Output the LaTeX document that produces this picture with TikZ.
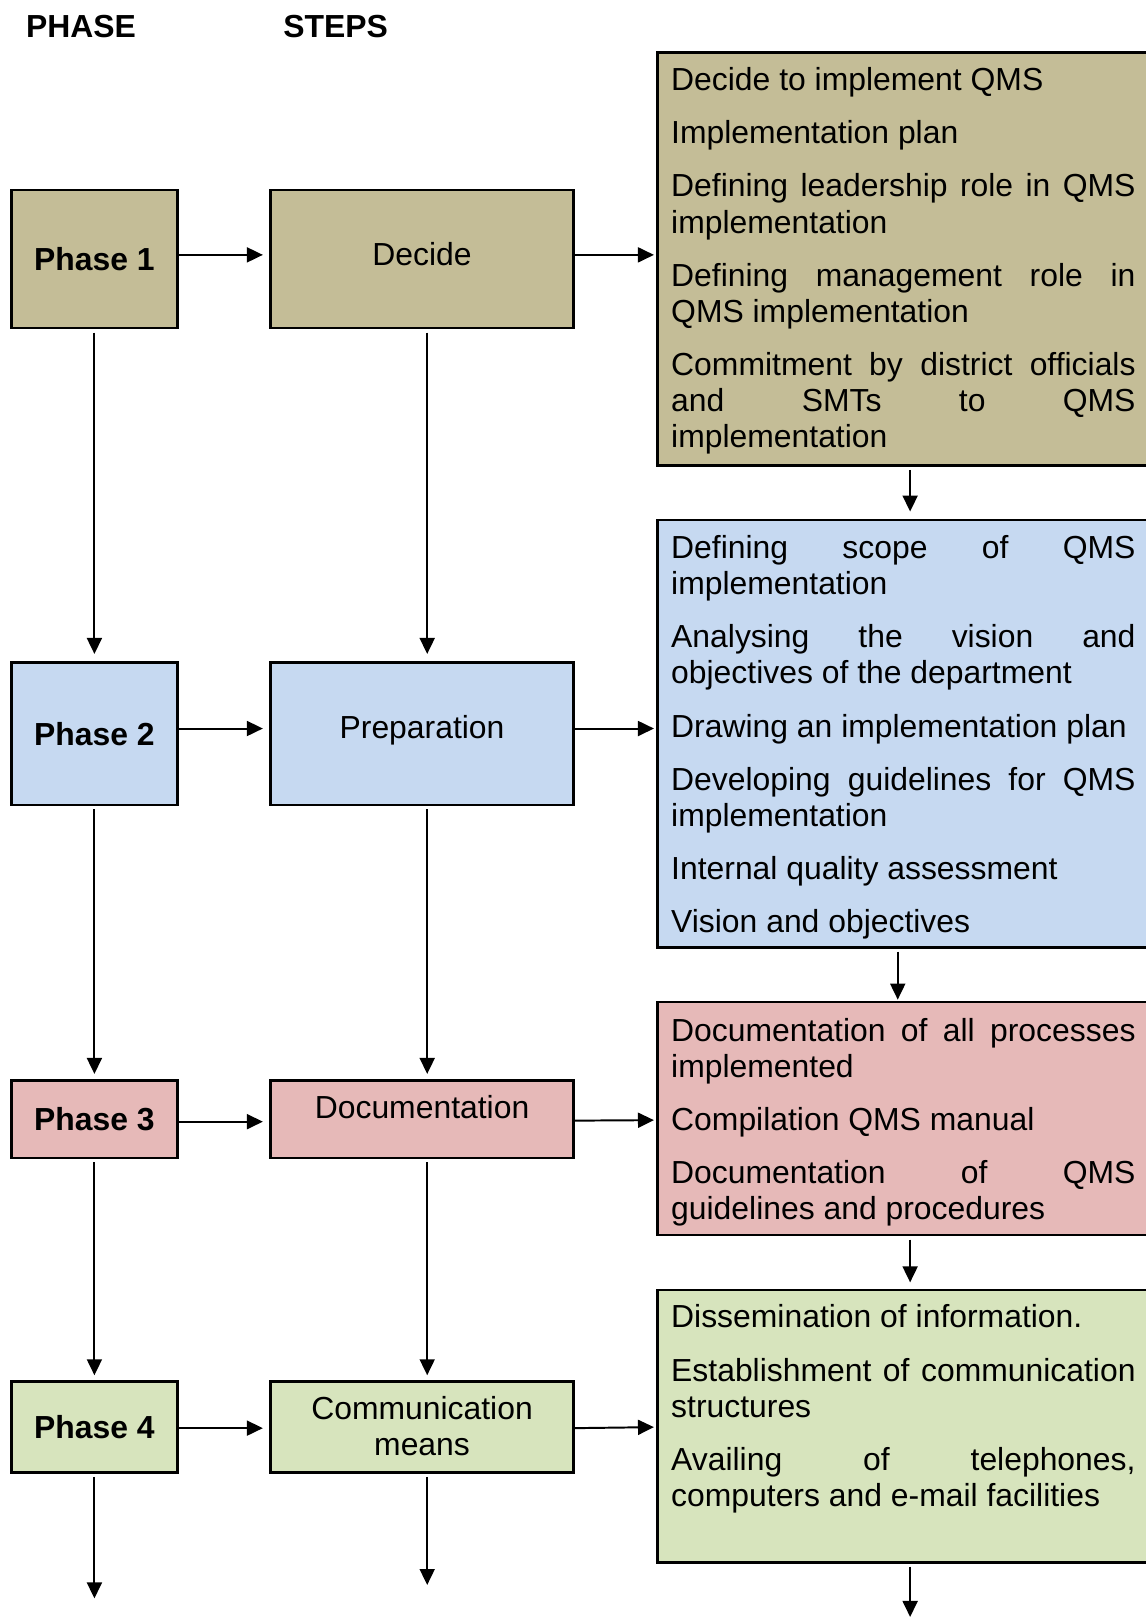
\documentclass[tikz,border=0pt]{standalone}
\usepackage{fontspec}
\setmainfont{Liberation Sans}
\usetikzlibrary{arrows.meta}
\definecolor{tanc}{HTML}{C4BD97}
\definecolor{bluec}{HTML}{C6D9F1}
\definecolor{pinkc}{HTML}{E6B9B8}
\definecolor{greenc}{HTML}{D7E4BD}
\newcommand\fsz{\fontsize{30.9pt}{35pt}\selectfont}
\newcommand\pskip{\par\vspace{16.5pt}}
\newcommand\setpar{\fsz\parindent=0pt\parskip=0pt\leftskip=0pt\rightskip=0pt\parfillskip=0pt plus 1fil\hyphenpenalty=10000\exhyphenpenalty=10000\hbadness=10000\tolerance=10000\relax}
\newenvironment{jtext}{\begin{minipage}[t]{450pt}\setpar}{\end{minipage}}
\begin{document}
\begin{tikzpicture}[x=1pt,y=-1pt,
  box/.style={draw=black,line width=2.5pt,inner sep=0pt},
  pbox/.style={box,minimum width=161pt,font=\fsz\bfseries},
  sbox/.style={box,minimum width=294pt},
  rbox/.style={box,minimum width=478pt},
  lbl/.style={font=\fsz,inner sep=0pt,align=center},
  txt/.style={inner sep=0pt,anchor=north west},
  hdr/.style={font=\fsz\bfseries,inner sep=0pt,anchor=base west},
  arr/.style={line width=1.9pt,-{Triangle[length=15.5pt,width=14.5pt]}},
]
\path[use as bounding box] (0,0) rectangle (1110,1568);

% headers
\node[hdr] (hphase) at (25,36) {PHASE};
\node[hdr] (hsteps) at (274.5,36) {STEPS};

% phase boxes
\node[pbox,fill=tanc,minimum height=134pt] (p1) at (91.5,251) {Phase 1};
\node[pbox,fill=bluec,minimum height=138pt] (p2) at (91.5,711) {Phase 2};
\node[pbox,fill=pinkc,minimum height=75pt] (p3) at (91.5,1084.5) {Phase 3};
\node[pbox,fill=greenc,minimum height=88pt] (p4) at (91.5,1383) {Phase 4};

% step boxes
\node[sbox,fill=tanc,minimum height=134pt] (s1) at (409,251) {};
\node[sbox,fill=bluec,minimum height=138pt] (s2) at (409,711) {};
\node[sbox,fill=pinkc,minimum height=75pt] (s3) at (409,1084.5) {};
\node[sbox,fill=greenc,minimum height=88pt] (s4) at (409,1383) {};
\node[lbl] (s1t) at ([yshift=5pt]s1.center) {Decide};
\node[lbl] (s2t) at ([yshift=3.8pt]s2.center) {Preparation};
\node[lbl] (s3t) at ([yshift=11.5pt]s3.center) {Documentation};
\node[lbl] (s4t) at ([yshift=1pt]s4.center) {Communication\\means};

% right boxes
\node[rbox,fill=tanc,minimum height=400pt] (r1) at (876,251) {};
\node[rbox,fill=bluec,minimum height=414pt] (r2) at (876,711) {};
\node[rbox,fill=pinkc,minimum height=226pt] (r3) at (876,1084) {};
\node[rbox,fill=greenc,minimum height=264pt] (r4) at (876,1382) {};

\node[txt] (r1t) at ([xshift=14.5pt,yshift=-15.5pt]r1.north west) {\begin{jtext}
Decide to implement QMS\pskip
Implementation plan\pskip
Defining leadership role in QMS\linebreak implementation\pskip
Defining management role in\linebreak QMS implementation\pskip
Commitment by district officials\linebreak and SMTs to QMS\linebreak implementation\end{jtext}};

\node[txt] (r2t) at ([xshift=14.5pt,yshift=-16pt]r2.north west) {\begin{jtext}
Defining scope of QMS\linebreak implementation\pskip
Analysing the vision and\linebreak objectives of the department\pskip
Drawing an implementation plan\pskip
Developing guidelines for QMS\linebreak implementation\pskip
Internal quality assessment\pskip
Vision and objectives\end{jtext}};

\node[txt] (r3t) at ([xshift=14.5pt,yshift=-16.5pt]r3.north west) {\begin{jtext}
Documentation of all processes\linebreak implemented\pskip
Compilation QMS manual\pskip
Documentation of QMS\linebreak guidelines and procedures\end{jtext}};

\node[txt] (r4t) at ([xshift=14.5pt,yshift=-15.5pt]r4.north west) {\begin{jtext}
Dissemination of information.\pskip
Establishment of communication\linebreak structures\pskip
Availing of telephones,\linebreak computers and e-mail facilities\end{jtext}};

% free ends
\coordinate (e1) at (91.5,1549);
\coordinate (e2) at (414,1536);
\coordinate (e3) at (882,1567);

% phase -> step
\draw[arr,shorten >=6pt] ([yshift=4pt]p1.east) -- ([yshift=4pt]s1.west);
\draw[arr,shorten >=6pt] ([yshift=5pt]p2.east) -- ([yshift=5pt]s2.west);
\draw[arr,shorten >=6pt] ([yshift=-2.5pt]p3.east) -- ([yshift=-2.5pt]s3.west);
\draw[arr,shorten >=6pt] ([yshift=-1pt]p4.east) -- ([yshift=-1pt]s4.west);

% step -> right
\draw[arr,shorten >=2pt] ([yshift=4pt]s1.east) -- ([yshift=4pt]r1.west);
\draw[arr,shorten >=2pt] ([yshift=5pt]s2.east) -- ([yshift=5pt]r2.west);
\draw[arr,shorten >=2pt] ([yshift=-1.5pt]s3.east) -- ([yshift=-1.5pt]r3.west);
\draw[arr,shorten >=2pt] ([yshift=-1pt]s4.east) -- ([yshift=-1pt]r4.west);

% phase verticals
\draw[arr,shorten <=3pt,shorten >=7pt] (p1.south) -- (p2.north);
\draw[arr,shorten <=3pt,shorten >=5pt] (p2.south) -- (p3.north);
\draw[arr,shorten <=3pt,shorten >=5pt] (p3.south) -- (p4.north);
\draw[arr,shorten <=3pt] (p4.south) -- (e1);

% step verticals
\draw[arr,shorten <=3pt,shorten >=7pt] ([xshift=5pt]s1.south) -- ([xshift=5pt]s2.north);
\draw[arr,shorten <=3pt,shorten >=5pt] ([xshift=5pt]s2.south) -- ([xshift=5pt]s3.north);
\draw[arr,shorten <=3pt,shorten >=5pt] ([xshift=5pt]s3.south) -- ([xshift=5pt]s4.north);
\draw[arr,shorten <=3pt] ([xshift=5pt]s4.south) -- (e2);

% right verticals
\draw[arr,shorten <=3pt,shorten >=7pt] ([xshift=6pt]r1.south) -- ([xshift=6pt]r2.north);
\draw[arr,shorten <=3pt,shorten >=1pt] ([xshift=-6pt]r2.south) -- ([xshift=-6pt]r3.north);
\draw[arr,shorten <=3pt,shorten >=6pt] ([xshift=6pt]r3.south) -- ([xshift=6pt]r4.north);
\draw[arr,shorten <=3pt] ([xshift=6pt]r4.south) -- (e3);
\end{tikzpicture}
\end{document}
